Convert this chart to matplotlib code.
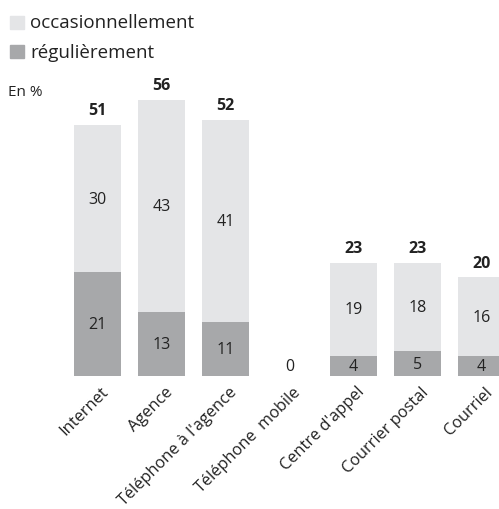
import matplotlib
matplotlib.use("Agg")
import matplotlib.pyplot as plt
import matplotlib.transforms as mtransforms
from matplotlib.patches import Rectangle
import numpy as np

plt.rcParams['font.family'] = ['Open Sans', 'DejaVu Sans']

canaux = ["Internet", "Agence", "Téléphone à l'agence", "Téléphone  mobile",
          "Centre d'appel", "Courrier postal", "Courriel"]
regulier = [21, 13, 11, 0, 4, 5, 4]
occasionnel = [30, 43, 41, 0, 19, 18, 16]
totaux = [51, 56, 52, 0, 23, 23, 20]

c_occ = "#e4e5e7"
c_reg = "#a7a8aa"
c_txt = "#222222"

W, H = 499, 510
fig = plt.figure(figsize=(W / 100, H / 100), dpi=100)

# axes span the full width; bar centres land every 64 px starting at 97.5 px
base_px = 377
scale = 4.93
ax = fig.add_axes([0, (H - base_px) / H, 1, base_px / H])
x = np.arange(len(canaux))
ax.set_xlim(-97.5 / 64, (W - 97.5) / 64)
ax.set_ylim(0, base_px / scale)
ax.axis("off")

bw = 47 / 64
ax.bar(x, regulier, width=bw, color=c_reg, linewidth=0)
ax.bar(x, occasionnel, bottom=regulier, width=bw, color=c_occ, linewidth=0)

fs = 11.5
for i in range(len(canaux)):
    r, o, t = regulier[i], occasionnel[i], totaux[i]
    if t == 0:
        ax.text(x[i], 2, "0", ha="center", va="center", fontsize=fs, color=c_txt)
        continue
    ax.text(x[i], r / 2, str(r), ha="center", va="center", fontsize=fs, color=c_txt)
    ax.text(x[i], r + o / 2, str(o), ha="center", va="center", fontsize=fs, color=c_txt)
    ax.text(x[i], t + 3, str(t), ha="center", va="center", fontsize=fs,
            fontweight="bold", color=c_txt)

# rotated category names under the bars
off = mtransforms.ScaledTranslation(9 / 100, -13 / 100, fig.dpi_scale_trans)
for i, nom in enumerate(canaux):
    ax.text(x[i], 0, nom, rotation=45, rotation_mode="anchor", ha="right", va="center",
            fontsize=11.8, color=c_txt, transform=ax.transData + off)

# legend
def fx(px):
    return px / W

def fy(py):
    return 1 - py / H

for (y0, col, lab) in [(17, c_occ, "occasionnellement"), (46, c_reg, "régulièrement")]:
    fig.patches.append(Rectangle((fx(10), fy(y0 + 13)), 14 / W, 13 / H, color=col,
                                 transform=fig.transFigure, figure=fig))
    fig.text(fx(30), fy(y0 + 6.5), lab, ha="left", va="center", fontsize=13.5, color=c_txt)

fig.text(fx(8), fy(93), "En %", ha="left", va="center", fontsize=11, color=c_txt)

fig.savefig("out.png", dpi=100, facecolor="white")
